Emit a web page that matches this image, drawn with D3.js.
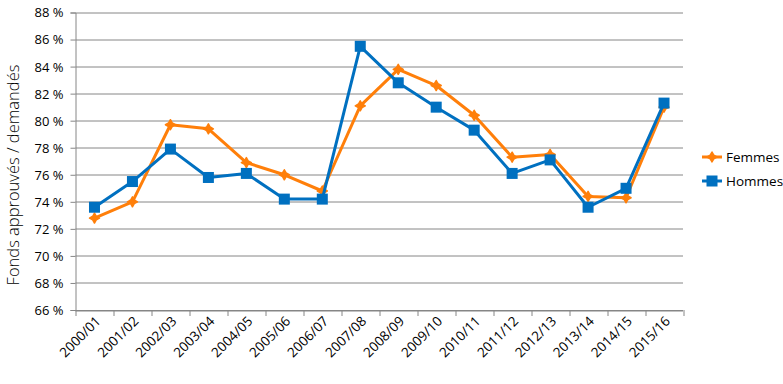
<!DOCTYPE html>
<html>
<head>
<meta charset="utf-8">
<script src="https://cdn.jsdelivr.net/npm/d3@7"></script>
<style>
  body { margin: 0; background: #fff; }
  text { font-family: "Open Sans", "DejaVu Sans", sans-serif; fill: #000; }
</style>
</head>
<body>
<div class="chart"></div>
<script>
// chart values
var years = ["2000/01", "2001/02", "2002/03", "2003/04", "2004/05", "2005/06", "2006/07", "2007/08",
  "2008/09", "2009/10", "2010/11", "2011/12", "2012/13", "2013/14", "2014/15", "2015/16"];
var femmes = [72.8, 74.0, 79.7, 79.4, 76.9, 76.0, 74.8, 81.1, 83.8, 82.6, 80.4, 77.3, 77.5, 74.4, 74.3, 81.0];
var hommes = [73.6, 75.5, 77.9, 75.8, 76.1, 74.2, 74.2, 85.5, 82.8, 81.0, 79.3, 76.1, 77.1, 73.6, 75.0, 81.3];
var yTicks = [66, 68, 70, 72, 74, 76, 78, 80, 82, 84, 86, 88];

var svgWidth = 783;
var svgHeight = 384;
var margin = { top: 12.5, right: 100, bottom: 74, left: 75.5 };
var width = 683 - margin.left;
var height = 310 - margin.top;

var svg = d3.select(".chart")
  .append("svg")
  .attr("width", svgWidth)
  .attr("height", svgHeight);

var chartGroup = svg.append("g")
  .attr("transform", `translate(${margin.left}, ${margin.top})`);

var xBandScale = d3.scaleBand()
  .domain(years)
  .range([0, width]);

var yLinearScale = d3.scaleLinear()
  .domain([66, 88])
  .range([height, 0]);

// gridlines
chartGroup.selectAll(".grid")
  .data(yTicks)
  .enter()
  .append("line")
  .attr("x1", 0)
  .attr("x2", width)
  .attr("y1", d => Math.round(yLinearScale(d)) + 0.5)
  .attr("y2", d => Math.round(yLinearScale(d)) + 0.5)
  .attr("stroke", "#868686")
  .attr("stroke-width", 1);

// left axis
var leftAxis = d3.axisLeft(yLinearScale)
  .tickValues(yTicks)
  .tickSize(5)
  .tickPadding(7)
  .tickFormat(d => d + " %");

var yAxisG = chartGroup.append("g").call(leftAxis);
yAxisG.select(".domain").attr("stroke", "#868686");
yAxisG.selectAll(".tick line").attr("stroke", "#868686");
yAxisG.selectAll(".tick text")
  .attr("font-size", "13px")
  .attr("font-family", "'Open Sans', sans-serif")
  .attr("dy", "0.34em");

// bottom axis: ticks at band boundaries
var bottomG = chartGroup.append("g")
  .attr("transform", `translate(0, ${height})`);
bottomG.append("line")
  .attr("x1", 0).attr("x2", width)
  .attr("y1", 0.5).attr("y2", 0.5)
  .attr("stroke", "#868686");
var bounds = years.map(d => xBandScale(d)).concat([width]);
bottomG.selectAll(".xtick")
  .data(bounds)
  .enter()
  .append("line")
  .attr("x1", d => Math.round(d) + 0.5)
  .attr("x2", d => Math.round(d) + 0.5)
  .attr("y1", 0)
  .attr("y2", 6)
  .attr("stroke", "#868686");
bottomG.selectAll(".xlabel")
  .data(years)
  .enter()
  .append("text")
  .attr("transform", d => `translate(${xBandScale(d) + xBandScale.bandwidth() / 2 + 7}, 12) rotate(-45)`)
  .attr("text-anchor", "end")
  .attr("font-size", "13.5px")
  .text(d => d);

// series
var series = [
  { name: "Femmes", values: femmes, color: "#FF7F0A", marker: "diamond" },
  { name: "Hommes", values: hommes, color: "#0070C0", marker: "square" }
];

var line = d3.line()
  .x((d, i) => xBandScale(years[i]) + xBandScale.bandwidth() / 2)
  .y(d => yLinearScale(d));

function drawMarker(g, type, color) {
  if (type === "square") {
    g.append("rect")
      .attr("x", -5.5).attr("y", -5.5)
      .attr("width", 11).attr("height", 11)
      .attr("fill", color);
  } else {
    g.append("path")
      .attr("d", "M0,-5 L1.8,-1.8 L5,0 L1.8,1.8 L0,5 L-1.8,1.8 L-5,0 L-1.8,-1.8 Z")
      .attr("fill", color)
      .attr("stroke", color)
      .attr("stroke-width", 1.5)
      .attr("stroke-linejoin", "round");
  }
}

series.forEach(function(s) {
  chartGroup.append("path")
    .datum(s.values)
    .attr("d", line)
    .attr("fill", "none")
    .attr("stroke", s.color)
    .attr("stroke-width", 3)
    .attr("stroke-linejoin", "round");

  s.values.forEach(function(v, i) {
    var g = chartGroup.append("g")
      .attr("transform", `translate(${xBandScale(years[i]) + xBandScale.bandwidth() / 2}, ${yLinearScale(v)})`);
    drawMarker(g, s.marker, s.color);
  });
});

// legend
var legend = svg.append("g").attr("transform", "translate(702, 157)");
series.forEach(function(s, i) {
  var lg = legend.append("g").attr("transform", `translate(0, ${i * 24})`);
  lg.append("line")
    .attr("x1", 0).attr("x2", 20)
    .attr("y1", 0).attr("y2", 0)
    .attr("stroke", s.color)
    .attr("stroke-width", 3);
  var mg = lg.append("g").attr("transform", "translate(10, 0)");
  drawMarker(mg, s.marker, s.color);
  lg.append("text")
    .attr("x", 24)
    .attr("y", 0)
    .attr("dy", "0.35em")
    .attr("font-size", "13.5px")
    .text(s.name);
});

// y axis title
svg.append("text")
  .attr("transform", "translate(19, 175) rotate(-90)")
  .attr("text-anchor", "middle")
  .attr("font-size", "16.5px")
  .attr("font-weight", 300)
  .text("Fonds approuvés / demandés");
</script>
</body>
</html>
